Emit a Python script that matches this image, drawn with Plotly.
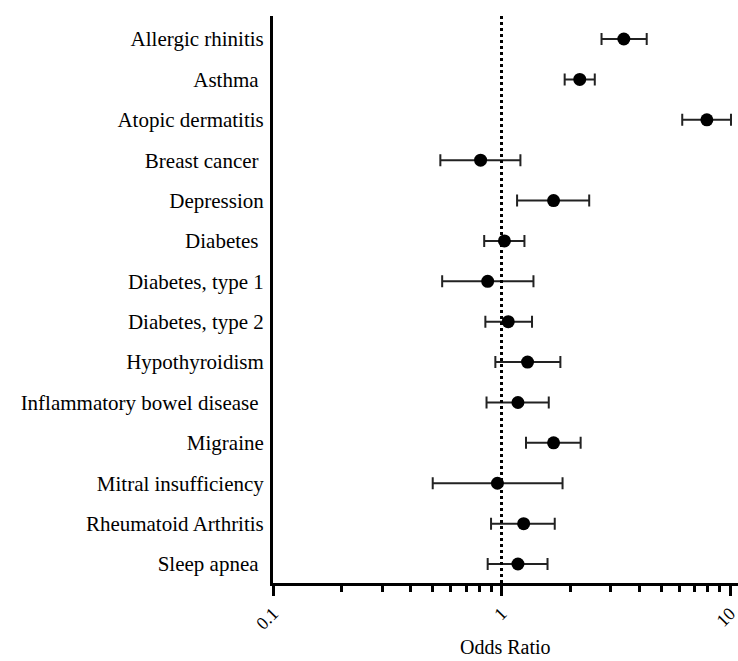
import plotly.graph_objects as go

conditions = ["Allergic rhinitis", "Asthma\u00a0", "Atopic dermatitis", "Breast cancer\u00a0",
              "Depression", "Diabetes\u00a0", "Diabetes, type 1", "Diabetes, type 2",
              "Hypothyroidism", "Inflammatory bowel disease\u00a0", "Migraine",
              "Mitral insufficiency", "Rheumatoid Arthritis", "Sleep apnea\u00a0"]
odds_ratio = [3.43, 2.20, 7.92, 0.81, 1.69, 1.03, 0.87, 1.07, 1.30, 1.18, 1.69, 0.96, 1.25, 1.18]
ci_low = [2.74, 1.89, 6.18, 0.54, 1.17, 0.84, 0.55, 0.85, 0.94, 0.86, 1.28, 0.50, 0.90, 0.87]
ci_high = [4.32, 2.56, 10.1, 1.21, 2.42, 1.26, 1.38, 1.36, 1.81, 1.61, 2.22, 1.85, 1.71, 1.59]

x_ticks = [0.1, 1, 10]
x_tick_labels = ["0.1", "1", "10"]

rows = list(range(len(conditions)))
err_plus = [h - o for h, o in zip(ci_high, odds_ratio)]
err_minus = [o - l for o, l in zip(odds_ratio, ci_low)]

FONT = "Liberation Serif"

fig = go.Figure()
fig.add_trace(go.Scatter(
    x=odds_ratio, y=rows, mode="markers",
    marker=dict(color="black", size=13, symbol="circle"),
    error_x=dict(type="data", symmetric=False, array=err_plus, arrayminus=err_minus,
                 color="#222222", thickness=2, width=6),
    showlegend=False, cliponaxis=False,
))

fig.add_shape(type="line", xref="x", yref="paper", x0=1, x1=1, y0=0, y1=1,
              line=dict(color="black", width=3, dash="dot"))

fig.add_annotation(text="Odds Ratio", xref="paper", yref="paper",
                   x=0.5, y=-0.113, xanchor="center", yanchor="middle",
                   showarrow=False, font=dict(family=FONT, size=20, color="black"))

fig.update_layout(
    width=738, height=661,
    margin=dict(l=273, r=0, t=16, b=78, autoexpand=False),
    paper_bgcolor="white", plot_bgcolor="white",
    font=dict(family=FONT, color="black", size=20),
    xaxis=dict(
        type="log", range=[-1, 1.035], automargin=False,
        tickvals=x_ticks, ticktext=x_tick_labels, tickangle=-45,
        ticklabeloverflow="allow",
        ticks="outside", ticklen=10, tickwidth=2.5, tickcolor="black",
        minor=dict(ticks="outside", ticklen=6, tickwidth=2.5, tickcolor="black",
                   dtick="D1", showgrid=False),
        showline=True, linecolor="black", linewidth=3,
        showgrid=False, zeroline=False,
        tickfont=dict(family=FONT, size=18),
    ),
    yaxis=dict(
        range=[len(conditions) - 1 + 0.47, -0.57], automargin=False,
        tickvals=rows, ticktext=conditions,
        ticks="", showline=True, linecolor="black", linewidth=3,
        showgrid=False, zeroline=False,
        tickfont=dict(family=FONT, size=21),
        ticklabelstandoff=2,
    ),
)

fig.write_html("out.html", config={"displayModeBar": False},
               post_script="document.body.style.margin='0';document.body.style.overflow='hidden';")
